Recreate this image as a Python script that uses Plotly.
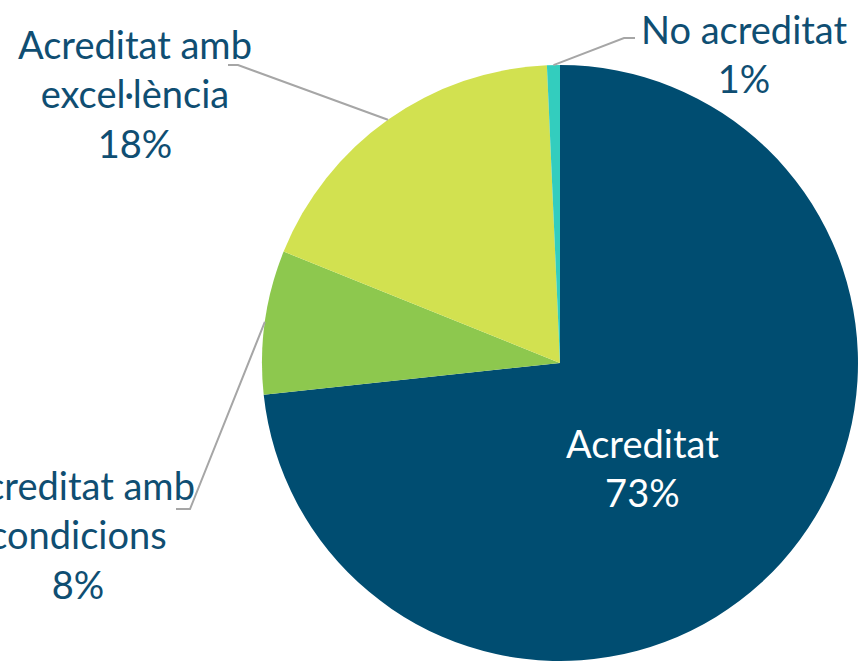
import math
import plotly.graph_objects as go

labels = ["Acreditat", "Acreditat amb condicions", "Acreditat amb excel·lència", "No acreditat"]
label_lines = ["Acreditat", "Acreditat amb<br>condicions", "Acreditat amb<br>excel·lència", "No acreditat"]
values = [73.3, 7.8, 18.2, 0.7]
colors = ["#004D71", "#8DC84E", "#D2E150", "#33CDBE"]

W, H = 859, 661
CX, CY, R = 560, 363, 298   # pie centre / radius in pixels


def px(x, y):
    return x / W, 1 - y / H


fig = go.Figure(go.Pie(
    labels=labels, values=values, sort=False, direction="clockwise", rotation=0,
    marker=dict(colors=colors, line=dict(width=0)),
    textinfo="none", hoverinfo="label+percent", showlegend=False,
    domain=dict(x=[(CX - R) / W, (CX + R) / W], y=[1 - (CY + R) / H, 1 - (CY - R) / H]),
))

# label centres and leader-line elbows (pixels)
label_pos = [(642, 467), (78, 534), (135, 93), (744, 53)]
elbows = [None, [(190, 509), (176, 509)], [(238, 65), (228, 65)], [(624, 38), (635, 38)]]
text_col = ["white", "#0F4E72", "#0F4E72", "#0F4E72"]

total = sum(values)
cum = 0
for i, v in enumerate(values):
    mid = (cum + v / 2) / total * 2 * math.pi
    cum += v
    lx, ly = px(*label_pos[i])
    fig.add_annotation(x=lx, y=ly, xref="paper", yref="paper",
                       text=f"{label_lines[i]}<br>{round(v / total * 100)}%",
                       showarrow=False, xanchor="center", yanchor="middle",
                       font=dict(family="Lato", size=38, color=text_col[i]))
    if elbows[i]:
        pts = [(CX + R * math.sin(mid), CY - R * math.cos(mid))] + elbows[i]
        path = "M " + " L ".join(f"{px(a, b)[0]},{px(a, b)[1]}" for a, b in pts)
        fig.add_shape(type="path", path=path, xref="paper", yref="paper",
                      line=dict(color="#A6A6A6", width=2))

fig.update_layout(width=W, height=H, margin=dict(l=0, r=0, t=0, b=0),
                  paper_bgcolor="white", plot_bgcolor="white")
# drop the browser's default body margin so the figure sits at the page corner
fig.write_html("out.html", config={"displayModeBar": False},
               post_script="document.body.style.margin='0';")
